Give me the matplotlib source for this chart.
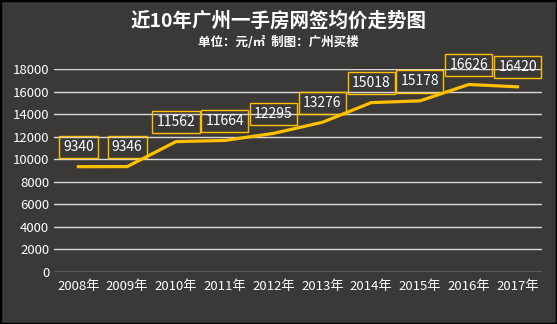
import matplotlib
matplotlib.use("Agg")
import matplotlib.pyplot as plt
from matplotlib.patches import Rectangle

plt.rcParams['font.family'] = ['Noto Sans CJK SC', 'DejaVu Sans']

years = ['2008年', '2009年', '2010年', '2011年', '2012年',
         '2013年', '2014年', '2015年', '2016年', '2017年']
prices = [9340, 9346, 11562, 11664, 12295, 13276, 15018, 15178, 16626, 16420]
yticks = list(range(0, 18001, 2000))

bg = '#3a3938'
fig = plt.figure(figsize=(5.57, 3.24), dpi=100, facecolor=bg)
fig.patches.append(Rectangle((0, 0), 1, 1, transform=fig.transFigure,
                             fill=False, edgecolor='black', linewidth=2.5))
ax = fig.add_axes([0.097, 0.1605, 0.876, 0.6265])
ax.set_facecolor(bg)

x = range(len(years))
ax.plot(x, prices, color='#ffc000', linewidth=2.3, zorder=3)

# data labels: yellow outlined boxes, no fill (gridlines show through)
for xi, v in zip(x, prices):
    ax.annotate(str(v), (xi, v), xytext=(0, 9), textcoords='offset points',
                ha='center', va='bottom', color='white', fontsize=10,
                bbox=dict(boxstyle='square,pad=0.3', fc='none', ec='#ffc000', lw=1))

ax.set_xlim(-0.5, len(years) - 0.5)
ax.set_ylim(0, 18000)
ax.set_yticks(yticks)
ax.set_xticks(list(x))
ax.set_xticklabels(years)
ax.grid(axis='y', color='#d9d9d9', linewidth=1)
ax.set_axisbelow(True)
for s in ax.spines.values():
    s.set_visible(False)
ax.tick_params(length=0, colors='white', labelsize=9.5)
ax.tick_params(axis='x', pad=6)

fig.text(0.5, 0.935, '近10年广州一手房网签均价走势图', ha='center', va='center',
         color='white', fontsize=14, fontweight='bold')
fig.text(0.5, 0.868, '单位：元/㎡  制图：广州买楼', ha='center', va='center',
         color='white', fontsize=9, fontweight='bold')

fig.savefig('out.png', dpi=100, facecolor=bg)
